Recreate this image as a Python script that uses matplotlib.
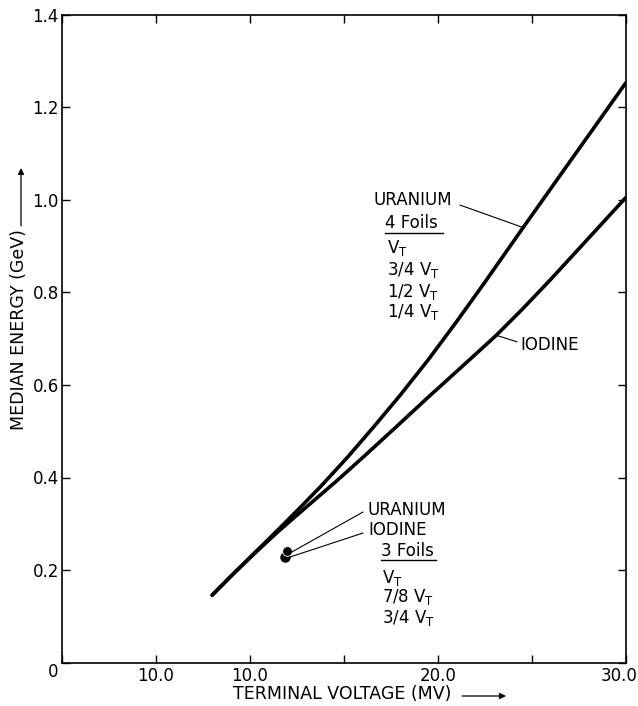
import numpy as np
import matplotlib.pyplot as plt

plt.rcParams['font.family'] = 'DejaVu Sans'
plt.rcParams['mathtext.default'] = 'regular'

# curves: terminal voltage (MV) vs median energy (GeV)
uranium_v = [8.0, 9.0, 10.2, 11.5, 12.7, 13.8, 15.2, 16.6, 18.0, 19.5, 21.0, 22.5, 24.5, 26.0, 27.1, 28.5, 30.0]
uranium_e = [0.146, 0.187, 0.235, 0.287, 0.336, 0.382, 0.444, 0.510, 0.578, 0.655, 0.737, 0.822, 0.938, 1.024, 1.087, 1.167, 1.253]

iodine_v = [8.0, 9.0, 10.2, 11.5, 13.0, 14.6, 16.0, 17.8, 19.5, 21.7, 23.1, 24.5, 26.0, 27.9, 30.0]
iodine_e = [0.146, 0.187, 0.234, 0.283, 0.336, 0.392, 0.443, 0.510, 0.574, 0.655, 0.707, 0.764, 0.828, 0.912, 1.005]

# 3-foil single points
u3_v, u3_e = [12.0], [0.2415]
i3_v, i3_e = [11.87], [0.229]

xticks = [0, 5, 10, 15, 20, 25, 30]
xlabels = ['', '10.0', '10.0', '', '20.0', '', '']
yticks = [0, 0.2, 0.4, 0.6, 0.8, 1.0, 1.2, 1.4]
ylabels = ['', '0.2', '0.4', '0.6', '0.8', '1.0', '1.2', '1.4']

W, H = 638, 706
fig = plt.figure(figsize=(W / 100, H / 100), dpi=100)
ax = fig.add_axes([61.7 / W, 1 - 662.7 / H, (626 - 61.7) / W, (662.7 - 14.5) / H])

ax.plot(uranium_v, uranium_e, color='k', lw=2.6, solid_capstyle='round', solid_joinstyle='round')
ax.plot(iodine_v, iodine_e, color='k', lw=2.6, solid_capstyle='round', solid_joinstyle='round')
ax.plot(i3_v, i3_e, 'o', color='k', ms=6.5, mec='k')
ax.plot(u3_v, u3_e, 'o', color='k', ms=7, mec='white', mew=0.6)

ax.set_xlim(0, 30)
ax.set_ylim(0, 1.4)
ax.set_xticks(xticks)
ax.set_xticklabels(xlabels)
ax.set_yticks(yticks)
ax.set_yticklabels(ylabels)
ax.tick_params(direction='in', top=True, right=True, length=6, width=1, labelsize=12)
ax.tick_params(axis='x', pad=3)
ax.tick_params(axis='y', pad=2)
for s in ax.spines.values():
    s.set_linewidth(1.2)

# lone "0" at the corner and the last x label pushed to the edge
ax.annotate('0', xy=(0, 0), xytext=(-6.5, -7), textcoords='offset points',
            ha='center', va='center', fontsize=12, annotation_clip=False)
ax.annotate('30.0', xy=(30, 0), xytext=(8, -3), textcoords='offset points',
            ha='right', va='top', fontsize=12, annotation_clip=False)

fs = 12
line = dict(arrowstyle='-', lw=0.8, color='k', shrinkA=0, shrinkB=0)

# upper group: 4 foils
ax.text(16.55, 1.004, 'URANIUM', fontsize=fs, va='center_baseline')
ax.text(17.19, 0.953, '4 Foils', fontsize=fs, va='center_baseline')
ax.plot([17.19, 20.27], [0.929, 0.929], color='k', lw=1.0)
for y, s in zip([0.900, 0.853, 0.805, 0.762], ['V$_T$', '3/4 V$_T$', '1/2 V$_T$', '1/4 V$_T$']):
    ax.text(17.3, y, s, fontsize=fs, va='center_baseline')
ax.annotate('', xy=(24.52, 0.940), xytext=(21.17, 0.9885), arrowprops=line)

ax.text(24.36, 0.690, 'IODINE', fontsize=fs, va='center_baseline')
ax.annotate('', xy=(23.04, 0.708), xytext=(24.21, 0.693), arrowprops=line)

# lower group: 3 foils
ax.text(16.28, 0.334, 'URANIUM', fontsize=fs, va='center_baseline')
ax.text(16.28, 0.291, 'IODINE', fontsize=fs, va='center_baseline')
ax.text(16.97, 0.2456, '3 Foils', fontsize=fs, va='center_baseline')
ax.plot([16.97, 19.89], [0.222, 0.222], color='k', lw=1.0)
for y, s in zip([0.189, 0.148, 0.103], ['V$_T$', '7/8 V$_T$', '3/4 V$_T$']):
    ax.text(17.03, y, s, fontsize=fs, va='center_baseline')
ax.annotate('', xy=(12.14, 0.2369), xytext=(16.02, 0.3255), arrowprops=line)
ax.annotate('', xy=(12.14, 0.2283), xytext=(16.02, 0.2801), arrowprops=line)

# axis titles with arrows
fig.text(19 / W, 1 - 330 / H, 'MEDIAN ENERGY (GeV)', rotation=90, ha='center', va='center', fontsize=12.5)
fig.text(342 / W, 1 - 694 / H, 'TERMINAL VOLTAGE (MV)', ha='center', va='center', fontsize=12.5)
arr = dict(arrowstyle='-|>', lw=0.9, color='k', mutation_scale=9, shrinkA=0, shrinkB=0)
ax.annotate('', xy=(21 / W, 1 - 168 / H), xytext=(21 / W, 1 - 226 / H),
            xycoords='figure fraction', textcoords='figure fraction', arrowprops=arr)
ax.annotate('', xy=(506 / W, 1 - 696 / H), xytext=(462 / W, 1 - 696 / H),
            xycoords='figure fraction', textcoords='figure fraction', arrowprops=arr)

fig.savefig('out.png', dpi=100)
